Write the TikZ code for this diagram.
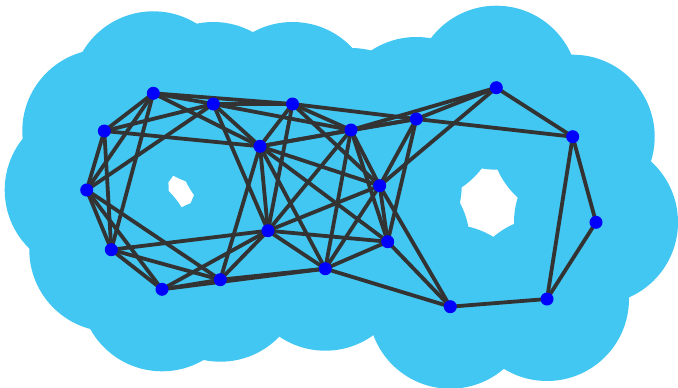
\documentclass[tikz,border=0pt]{standalone}
\usepackage{tikz}
\usetikzlibrary{backgrounds}
\usepackage{xcolor}
\definecolor{blobcol}{RGB}{66,198,242}
\definecolor{edgecol}{RGB}{51,51,51}

\begin{document}
\begin{tikzpicture}[x=1pt,y=-1pt,
  vtx/.style={circle,fill=blue,inner sep=0pt,minimum size=13pt},
  blob/.style={fill=blobcol},
  edge/.style={draw=edgecol,line width=3.8pt}]
\useasboundingbox (0,0) rectangle (678,388);
% points
\node[vtx] (v1) at (153.3,93.3) {};
\node[vtx] (v2) at (213.3,104) {};
\node[vtx] (v3) at (292.5,104) {};
\node[vtx] (v4) at (104.3,131) {};
\node[vtx] (v5) at (260,146.3) {};
\node[vtx] (v6) at (351,130) {};
\node[vtx] (v7) at (416.3,119) {};
\node[vtx] (v8) at (496.3,87.7) {};
\node[vtx] (v9) at (572.7,136.7) {};
\node[vtx] (v10) at (86.7,190) {};
\node[vtx] (v11) at (379.7,185.7) {};
\node[vtx] (v12) at (596,222.3) {};
\node[vtx] (v13) at (111.3,249.7) {};
\node[vtx] (v14) at (268,230.7) {};
\node[vtx] (v15) at (387.7,241.7) {};
\node[vtx] (v16) at (162,289.3) {};
\node[vtx] (v17) at (220.3,279.7) {};
\node[vtx] (v18) at (325.3,268.7) {};
\node[vtx] (v19) at (450.3,306.7) {};
\node[vtx] (v20) at (547,299) {};
\begin{pgfonlayer}{background}
% union of disks
\foreach \v in {v1,v2,v3,v4,v5,v6,v7,v8,v9,v10,v11,v12,v13,v14,v15,v16,v17,v18,v19,v20}
  \fill[blob] (\v.center) circle (82pt);
% edges
\foreach \a/\b in {v1/v2,v1/v3,v1/v4,v1/v5,v1/v10,v1/v13,
  v2/v3,v2/v4,v2/v5,v2/v6,v2/v10,v2/v14,
  v3/v5,v3/v6,v3/v7,v3/v11,v3/v14,
  v4/v5,v4/v10,v4/v13,
  v5/v6,v5/v7,v5/v11,v5/v14,v5/v15,v5/v17,v5/v18,
  v6/v7,v6/v8,v6/v11,v6/v14,v6/v15,v6/v18,
  v7/v8,v7/v9,v7/v11,v7/v15,
  v8/v9,v8/v11,
  v9/v12,v9/v20,
  v10/v13,v10/v16,v10/v17,
  v11/v14,v11/v15,v11/v18,v11/v19,
  v12/v20,
  v13/v14,v13/v16,v13/v17,
  v14/v15,v14/v16,v14/v17,v14/v18,
  v15/v18,v15/v19,
  v16/v17,v16/v18,
  v17/v18,
  v18/v19,
  v19/v20}
  \draw[edge] (\a.center) -- (\b.center);
\end{pgfonlayer}
\end{tikzpicture}
\end{document}
